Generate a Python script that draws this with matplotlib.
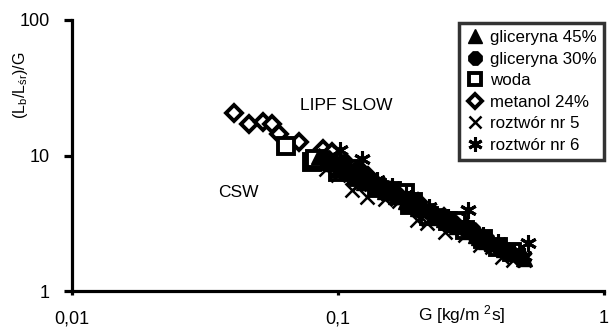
import matplotlib
matplotlib.use('Agg')
import matplotlib.pyplot as plt
from matplotlib.ticker import FixedLocator, NullLocator

plt.rcParams['font.family'] = ['Liberation Sans', 'DejaVu Sans']
plt.rcParams['mathtext.fontset'] = 'custom'
plt.rcParams['mathtext.rm'] = 'Liberation Sans'
plt.rcParams['mathtext.it'] = 'Liberation Sans'

# gliceryna 45%
g45_G = [0.085, 0.09, 0.095, 0.1, 0.105, 0.11, 0.115, 0.12, 0.125, 0.13, 0.14, 0.15, 0.155, 0.165, 0.17,
         0.18, 0.19, 0.2, 0.21, 0.23, 0.24, 0.25, 0.27, 0.28, 0.31, 0.33, 0.34, 0.36, 0.38, 0.42, 0.44, 0.46, 0.5]
g45_Y = [10.0, 9.0, 8.8, 8.0, 8.2, 7.5, 7.0, 7.0, 6.4, 6.4, 6.0, 5.5, 5.4, 5.0, 5.0,
         4.6, 4.4, 4.1, 4.0, 3.7, 3.5, 3.4, 3.1, 3.0, 2.75, 2.6, 2.5, 2.35, 2.25, 2.05, 2.0, 1.9, 1.75]
# gliceryna 30%
g30_G = [0.09, 0.1, 0.105, 0.115, 0.12, 0.125, 0.135, 0.145, 0.15, 0.165, 0.18, 0.19, 0.2, 0.22, 0.24,
         0.26, 0.27, 0.3, 0.32, 0.33, 0.36, 0.4, 0.44, 0.48]
g30_Y = [9.6, 8.6, 8.9, 7.6, 7.8, 6.9, 6.4, 6.0, 5.8, 5.2, 4.8, 4.7, 4.3, 3.9, 3.6,
         3.4, 3.2, 2.9, 2.8, 2.6, 2.4, 2.15, 1.95, 1.8]
# woda
woda_G = [0.064, 0.080, 0.082, 0.1, 0.11, 0.12, 0.14, 0.16, 0.178, 0.187, 0.191, 0.22, 0.26, 0.28, 0.3, 0.35, 0.4, 0.45]
woda_Y = [11.8, 8.9, 9.5, 7.6, 8.0, 6.9, 5.8, 5.5, 5.3, 4.3, 4.5, 3.6, 3.3, 3.3, 2.8, 2.4, 2.1, 1.95]
# metanol 24%
met_G = [0.0406, 0.0463, 0.0523, 0.0565, 0.060, 0.0713, 0.0879, 0.095, 0.105, 0.13, 0.16, 0.2, 0.25, 0.3]
met_Y = [20.7, 17.2, 17.8, 17.2, 14.5, 12.5, 11.1, 10.6, 8.5, 7.0, 5.6, 4.5, 3.5, 3.0]
# roztwor nr 5
r5_G = [0.09, 0.1, 0.113, 0.12, 0.128, 0.15, 0.17, 0.198, 0.216, 0.253, 0.3, 0.342, 0.38, 0.414, 0.455, 0.5]
r5_Y = [8.0, 7.2, 5.53, 6.2, 4.91, 4.8, 4.6, 3.33, 3.16, 2.72, 2.6, 2.18, 2.1, 1.78, 1.69, 1.7]
# roztwor nr 6
r6_G = [0.102, 0.11, 0.123, 0.14, 0.16, 0.18, 0.22, 0.26, 0.308, 0.35, 0.4, 0.46, 0.5, 0.518]
r6_Y = [10.9, 8.2, 9.5, 6.6, 6.0, 5.2, 4.2, 3.5, 3.94, 2.6, 2.3, 1.95, 1.8, 2.25]

fig = plt.figure(figsize=(6.11, 3.33), dpi=100)
ax = fig.add_axes([72 / 611, 42 / 333, 532 / 611, 271 / 333])

ax.plot(met_G, met_Y, 'D', ms=8, mfc='white', mec='black', mew=2.8, ls='none', label='metanol 24%')
ax.plot(woda_G, woda_Y, 's', ms=11, mfc='white', mec='black', mew=2.8, ls='none', label='woda')
ax.plot(g45_G, g45_Y, '^', ms=12, color='black', ls='none', label='gliceryna 45%')
ax.plot(g30_G, g30_Y, '8', ms=11, mfc='black', mec='black', mew=2, ls='none', label='gliceryna 30%')
ax.plot(r5_G, r5_Y, 'x', ms=10, color='black', mew=1.8, ls='none', label='roztwór nr 5')
ax.plot(r6_G, r6_Y, marker=(6, 2, 0), ms=12, color='black', mew=2.2, ls='none', label='roztwór nr 6')

ax.set_xscale('log')
ax.set_yscale('log')
ax.set_xlim(0.01, 1)
ax.set_ylim(1, 100)
ax.xaxis.set_major_locator(FixedLocator([0.01, 0.1, 1]))
ax.yaxis.set_major_locator(FixedLocator([1, 10, 100]))
ax.xaxis.set_minor_locator(NullLocator())
ax.yaxis.set_minor_locator(NullLocator())
ax.set_xticklabels(['0,01', '0,1', '1'])
ax.set_yticklabels(['1', '10', '100'])

for side in ['top', 'right']:
    ax.spines[side].set_visible(False)
for side in ['left', 'bottom']:
    ax.spines[side].set_linewidth(2.3)
ax.tick_params(axis='y', direction='out', length=6, width=2.3, pad=10, labelsize=13)
ax.tick_params(axis='x', direction='out', length=3, width=2.3, pad=11, labelsize=13)

ax.text(0.274, 0.362, 'CSW', transform=ax.transAxes, fontsize=12.5, va='center', ha='left')
ax.text(0.429, 0.686, 'LIPF SLOW', transform=ax.transAxes, fontsize=12.5, va='center', ha='left')

fig.text(20 / 611, 1 - 85 / 333, r'(L$_{\mathrm{b}}$/L$_{\mathrm{śr}}$)/G', rotation=90,
         ha='center', va='center', fontsize=11.5)
fig.text(462 / 611, 1 - 315 / 333, r'G [kg/m $^{2}$s]', ha='center', va='center', fontsize=12.5)

handles, labels = ax.get_legend_handles_labels()
order = [labels.index(n) for n in ['gliceryna 45%', 'gliceryna 30%', 'woda', 'metanol 24%', 'roztwór nr 5', 'roztwór nr 6']]
leg = ax.legend([handles[i] for i in order], [labels[i] for i in order], loc='upper right',
                bbox_to_anchor=(1.0, 0.99), fontsize=12.2, frameon=True, fancybox=False,
                handlelength=1.0, handletextpad=0.35, labelspacing=0.38, borderpad=0.45,
                borderaxespad=0, markerscale=0.85)
leg.get_frame().set_edgecolor('black')
leg.get_frame().set_linewidth(2.5)

fig.savefig('out.png', dpi=100)
